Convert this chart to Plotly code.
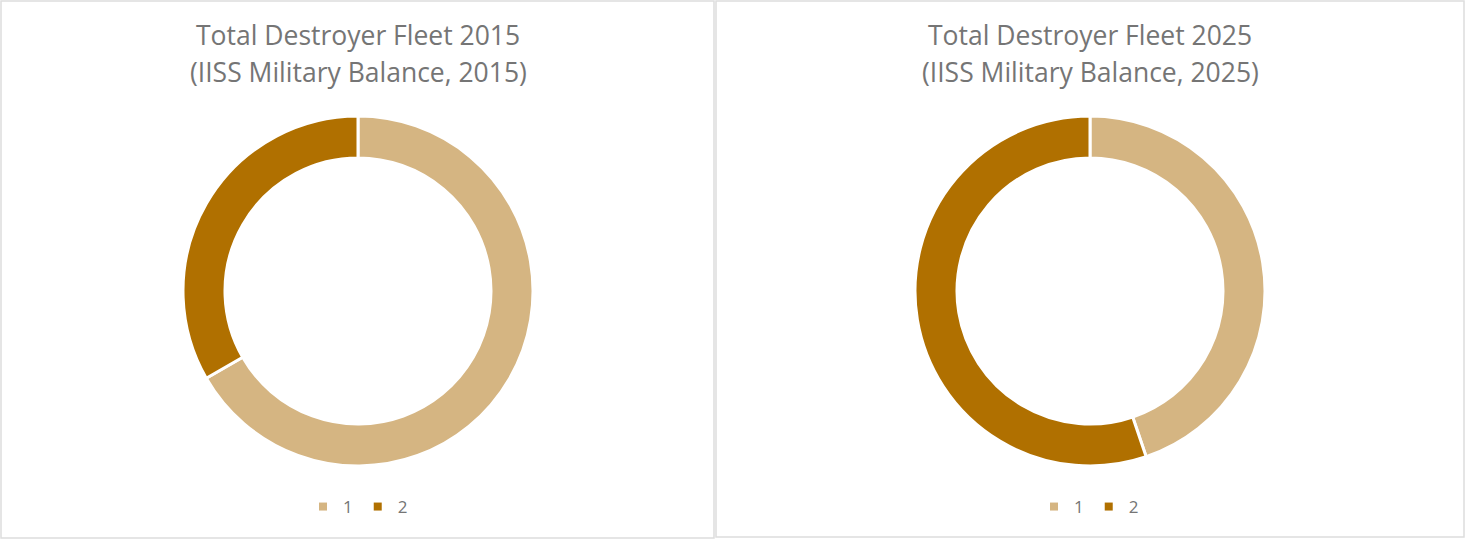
import plotly.graph_objects as go

# ---- data ----
labels = ["1", "2"]
values_2015 = [66.7, 33.3]
values_2025 = [44.8, 55.2]
title_line1 = ["Total Destroyer Fleet 2015", "Total Destroyer Fleet 2025"]
title_line2 = ["(IISS Military Balance, 2015)", "(IISS Military Balance, 2025)"]
colors = ["#D5B582", "#B07000"]

W, H = 1467, 541


def px(x):
    return x / W


def py(y):
    return 1 - y / H


R = 175
centers = [(358, 291), (1090, 291)]
legend_names = ["legend", "legend2"]

fig = go.Figure()
for i, (vals, (cx, cy)) in enumerate(zip([values_2015, values_2025], centers)):
    fig.add_trace(go.Pie(
        labels=labels, values=vals, hole=0.76, sort=False,
        direction="clockwise", rotation=0,
        marker=dict(colors=colors, line=dict(color="white", width=3)),
        textinfo="none", hoverinfo="label+value",
        domain=dict(x=[px(cx - R), px(cx + R)], y=[py(cy + R), py(cy - R)]),
        showlegend=False,
    ))
    # legend entries for this panel
    for lab, col in zip(labels, colors):
        fig.add_trace(go.Scatter(
            x=[None], y=[None], mode="markers", name=lab,
            marker=dict(symbol="square", size=8, color=col),
            legend=legend_names[i], showlegend=True, hoverinfo="skip",
        ))

legend_style = dict(orientation="h", xanchor="center", yanchor="middle",
                    font=dict(family="Open Sans", size=17, color="#757575"),
                    bgcolor="rgba(0,0,0,0)", itemwidth=30)

title_font = dict(family="Open Sans", size=26.5, color="#757575")

annotations = []
for i, (cx, _) in enumerate(centers):
    annotations.append(dict(text=title_line1[i], x=px(cx), y=py(35), xref="paper", yref="paper",
                            showarrow=False, xanchor="center", yanchor="middle", font=title_font))
    annotations.append(dict(text=title_line2[i], x=px(cx), y=py(72), xref="paper", yref="paper",
                            showarrow=False, xanchor="center", yanchor="middle", font=title_font))

fig.update_layout(
    width=W, height=H,
    margin=dict(l=0, r=0, t=0, b=0),
    paper_bgcolor="white", plot_bgcolor="white",
    xaxis=dict(visible=False), yaxis=dict(visible=False),
    legend=dict(x=px(358), y=py(507), **legend_style),
    legend2=dict(x=px(1089), y=py(507), **legend_style),
    shapes=[
        dict(type="rect", xref="paper", yref="paper",
             x0=px(1), x1=px(714), y0=py(538), y1=py(1),
             line=dict(color="#DDDDDD", width=1.5)),
        dict(type="rect", xref="paper", yref="paper",
             x0=px(716), x1=px(1464), y0=py(537), y1=py(1),
             line=dict(color="#DDDDDD", width=1.5)),
    ],
    annotations=annotations,
)

fig.write_html("out.html", config={"displayModeBar": False},
               post_script="document.body.style.margin='0';")
